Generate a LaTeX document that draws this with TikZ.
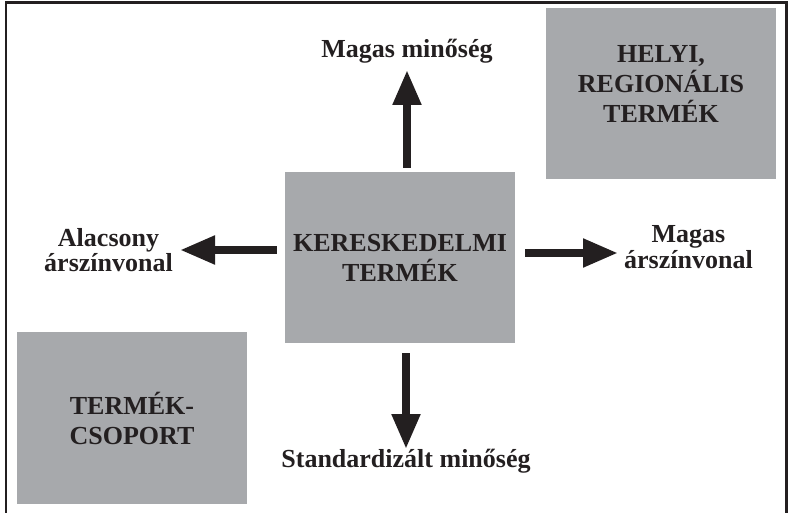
\documentclass[tikz,border=0pt]{standalone}
\usepackage{fontspec}
\setmainfont{Liberation Serif}
\usetikzlibrary{arrows.meta, positioning}

\definecolor{boxgray}{HTML}{A7A9AC}
\definecolor{ink}{HTML}{231F20}

\tikzset{
  box/.style={fill=boxgray, minimum width=230pt, minimum height=171pt, align=center,
    text=ink, font=\bfseries\fontsize{26}{30}\selectfont},
  lbl/.style={align=center, inner sep=0pt, text=ink, font=\bfseries\fontsize{26}{25.5}\selectfont},
  bigarrow/.style={draw=ink, line width=8pt, -{Triangle[length=35pt, width=27pt]}}
}

\begin{document}
\begin{tikzpicture}[x=1pt, y=-1pt]
        \useasboundingbox (0,0) rectangle (788,513);
        \draw[ink, line width=2.4pt] (6,520) -- (6,2.5) -- (786.5,2.5) -- (786.5,520);

        \node[box] (kt) at (400,257.5) {KERESKEDELMI\\TERMÉK};
        \node[box] (helyi) at (661,94) {HELYI,\\REGIONÁLIS\\TERMÉK\\[-10pt]\mbox{}};
        \node[box] (csoport) at (132,418) {TERMÉK-\\CSOPORT};

        \node[lbl, anchor=south] (magasmin) at (407,63) {Magas minőség};
        \node[lbl, anchor=north] (standard) at (406,449) {Standardizált minőség};
        \node[lbl, anchor=east] (alacsony) at (173,250) {Alacsony\\árszínvonal};
        \node[lbl, anchor=west] (magasar) at (624,247) {Magas\\árszínvonal};
        \coordinate (rtip) at ([yshift=-6pt]magasar.west);

        \draw[bigarrow, shorten <=4pt, shorten >=7pt] (kt.north -| magasmin.south) -- (magasmin.south);
        \draw[bigarrow, shorten <=10pt] (kt.south -| standard.north) -- (standard.north);
        \draw[bigarrow, shorten <=8pt, shorten >=7pt] (kt.west |- alacsony.east) -- (alacsony.east);
        \draw[bigarrow, shorten <=10pt, shorten >=6pt] (kt.east |- rtip) -- (rtip);
    \end{tikzpicture}
\end{document}
